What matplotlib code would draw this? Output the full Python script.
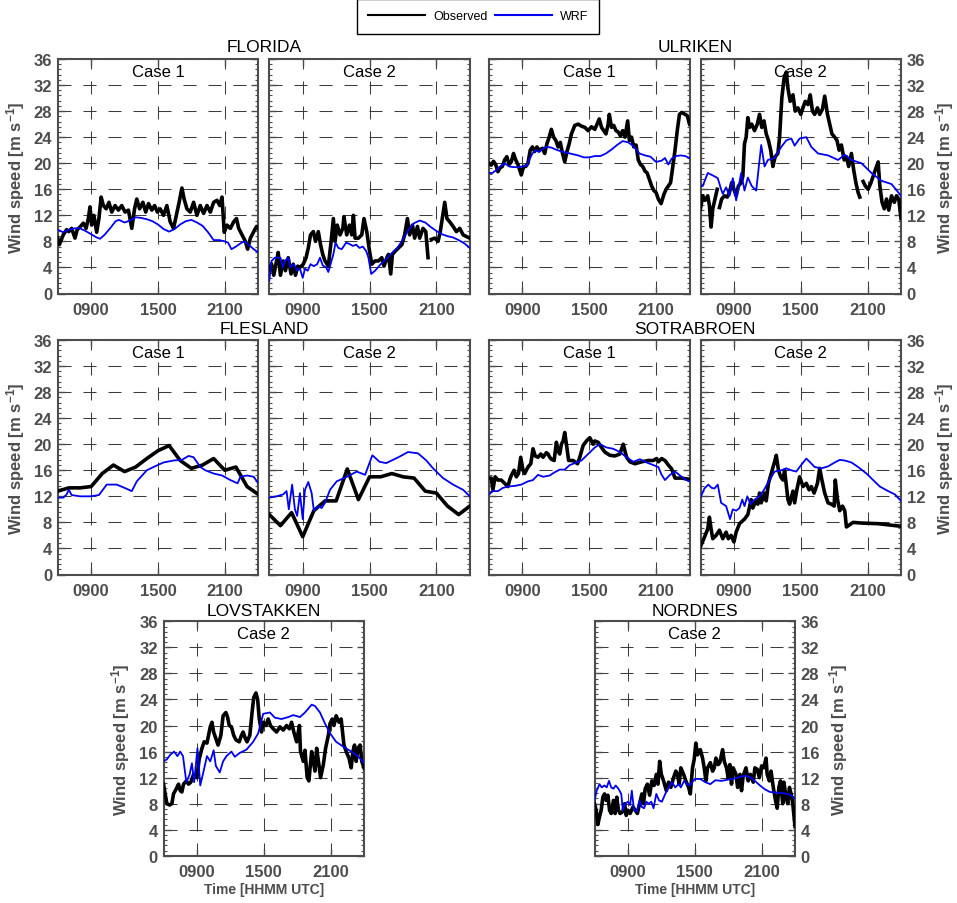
import matplotlib
matplotlib.use("Agg")
import matplotlib.pyplot as plt
import numpy as np
from matplotlib.lines import Line2D
from matplotlib.ticker import AutoMinorLocator

plt.rcParams["font.family"] = ["Liberation Sans", "DejaVu Sans"]

OBS_COLOR = "black"
WRF_COLOR = "#0000f0"
AXIS_GREY = "#4d4d4d"

Y_TICKS = list(range(0, 37, 4))
X_TICKS = [9, 15, 21]
X_TICK_LABELS = ["0900", "1500", "2100"]
NAN = np.nan

# (hour UTC, wind speed m/s)
FLORIDA_C1_OBS = [
    (6.0, 8.5), (6.15, 7.5), (6.5, 9.0), (6.8, 9.8), (7.0, 9.5), (7.25, 10.0),
    (7.55, 8.5), (7.75, 9.8), (8.0, 10.2), (8.3, 10.8), (8.55, 10.0), (8.75, 11.5),
    (8.9, 13.3), (9.05, 10.5), (9.25, 12.0), (9.5, 9.4), (9.7, 11.5), (9.9, 14.8),
    (10.1, 13.5), (10.35, 13.0), (10.6, 14.0), (10.85, 12.5), (11.15, 13.5),
    (11.45, 12.8), (11.75, 13.5), (12.05, 12.5), (12.35, 12.8), (12.65, 10.0),
    (12.9, 13.0), (13.1, 14.5), (13.35, 13.0), (13.65, 14.0), (13.9, 12.5),
    (14.15, 13.8), (14.45, 12.8), (14.7, 13.5), (14.95, 12.5), (15.2, 13.0),
    (15.5, 12.0), (15.8, 13.5), (16.1, 11.0), (16.4, 10.0), (16.65, 12.0),
    (16.9, 14.0), (17.15, 16.2), (17.35, 14.5), (17.6, 13.0), (17.9, 12.5),
    (18.2, 14.0), (18.5, 12.0), (18.8, 13.5), (19.1, 12.3), (19.4, 13.5),
    (19.7, 12.5), (20.0, 14.0), (20.3, 14.3), (20.55, 13.5), (20.75, 14.8),
    (20.95, 9.4), (21.2, 10.5), (21.5, 10.0), (21.8, 11.0), (22.05, 11.5),
    (22.25, 10.0), (22.55, 9.0), (22.85, 8.0), (23.05, 6.8), (23.3, 8.5),
    (23.6, 9.5), (23.85, 10.3), (24.0, 10.0),
]
FLORIDA_C1_WRF = [
    (6.0, 9.8), (6.5, 9.4), (7.0, 9.8), (7.5, 10.0), (8.0, 10.0), (8.5, 9.6),
    (9.0, 9.1), (9.5, 8.6), (9.8, 8.4), (10.2, 9.0), (10.7, 10.0), (11.2, 11.1),
    (11.5, 11.3), (12.0, 10.9), (12.5, 11.2), (13.0, 11.7), (13.5, 11.6),
    (14.0, 11.4), (14.5, 11.1), (15.0, 10.6), (15.5, 9.9), (16.0, 9.5),
    (16.5, 9.9), (17.0, 10.6), (17.5, 11.1), (18.0, 11.3), (18.5, 10.9),
    (19.0, 10.4), (19.5, 9.4), (20.0, 8.2), (20.5, 8.2), (21.0, 8.0),
    (21.3, 7.8), (21.6, 6.8), (22.0, 7.2), (22.5, 7.8), (22.8, 8.0),
    (23.2, 7.4), (23.6, 6.8), (24.0, 6.3),
]
FLORIDA_C2_OBS = [
    (6.0, 3.5), (6.2, 4.5), (6.4, 2.8), (6.65, 5.0), (6.8, 6.3), (7.0, 2.8),
    (7.25, 5.0), (7.45, 3.5), (7.7, 5.5), (7.95, 3.0), (8.15, 4.5), (8.35, 2.8),
    (8.55, 4.2), (8.75, 4.0), (9.05, 4.5), (9.3, 5.5), (9.5, 7.0), (9.7, 9.0),
    (9.95, 9.5), (10.15, 8.0), (10.4, 9.5), (10.6, 7.5), (10.8, 6.0),
    (11.0, 5.0), (11.3, 4.2), (11.55, 8.0), (11.75, 11.5), (11.9, 8.0),
    (12.1, 10.5), (12.35, 9.0), (12.6, 10.0), (12.7, 11.8), (12.95, 9.0),
    (13.2, 10.5), (13.4, 9.0), (13.55, 12.0), (13.7, 8.5), (14.0, 8.5),
    (14.3, 9.0), (14.5, 11.5), (14.75, 9.5), (15.0, 6.5), (15.2, 4.5),
    (15.5, 5.0), (15.8, 5.0), (16.1, 5.5), (16.3, 4.2), (16.55, 5.5),
    (16.7, 6.0), (16.9, 3.0), (17.05, 6.0), (17.3, 6.5), (17.6, 7.0),
    (17.9, 7.5), (18.15, 9.0), (18.4, 11.5), (18.6, 9.0), (18.85, 10.5),
    (19.05, 8.5), (19.3, 10.3), (19.5, 8.5), (19.8, 10.0), (20.05, 9.5),
    (20.25, 5.5), (20.4, NAN), (20.55, 8.3), (20.85, 8.5), (21.15, 8.0),
    (21.35, 9.5), (21.75, 14.0), (21.95, 11.5), (22.2, 11.0), (22.5, 10.3),
    (22.8, 9.5), (23.1, 10.0), (23.4, 9.0), (23.75, 8.7), (24.0, 8.5),
]
FLORIDA_C2_WRF = [
    (6.0, 2.0), (6.2, 5.0), (6.5, 5.5), (7.0, 5.5), (7.2, 4.0), (7.4, 5.0),
    (7.7, 5.5), (7.9, 4.0), (8.2, 4.5), (8.5, 3.5), (8.75, 3.8), (9.0, 2.4),
    (9.2, 3.8), (9.45, 3.5), (9.7, 4.5), (10.0, 4.2), (10.3, 4.5), (10.55, 5.5),
    (10.8, 4.3), (11.1, 4.0), (11.3, 3.3), (11.5, 4.5), (11.75, 6.0),
    (11.95, 7.8), (12.2, 7.0), (12.5, 6.8), (12.9, 7.8), (13.2, 7.6),
    (13.5, 7.3), (13.8, 7.5), (14.1, 7.0), (14.4, 7.2), (14.7, 6.5),
    (14.9, 5.5), (15.15, 3.0), (15.5, 3.5), (16.0, 4.5), (16.5, 5.3),
    (17.0, 6.2), (17.5, 7.0), (18.0, 8.3), (18.5, 9.8), (19.0, 10.8),
    (19.5, 11.2), (20.0, 10.9), (20.5, 10.2), (21.0, 9.6), (21.5, 9.1),
    (22.0, 8.8), (22.5, 8.6), (23.0, 8.2), (23.5, 7.7), (24.0, 7.0),
]
ULRIKEN_C1_OBS = [
    (6.0, 20.0), (6.2, 19.7), (6.4, 20.3), (6.6, 19.8), (6.8, 18.7), (7.0, 19.3),
    (7.2, 19.5), (7.4, 20.5), (7.6, 21.0), (7.8, 19.8), (8.0, 20.2), (8.2, 21.5),
    (8.4, 20.5), (8.6, 19.8), (8.9, 18.2), (9.1, 19.5), (9.3, 19.5), (9.5, 20.0),
    (9.7, 22.0), (9.9, 22.5), (10.1, 21.8), (10.3, 22.5), (10.5, 22.0),
    (10.8, 22.3), (11.0, 21.5), (11.2, 23.0), (11.4, 24.0), (11.6, 25.2),
    (11.8, 24.0), (12.0, 23.5), (12.2, 22.5), (12.4, 23.2), (12.6, 21.5),
    (12.8, 20.2), (13.0, 21.8), (13.2, 23.0), (13.4, 24.5), (13.7, 25.8),
    (14.0, 26.0), (14.3, 25.7), (14.6, 25.5), (14.9, 25.0), (15.2, 25.6),
    (15.5, 25.2), (15.7, 26.0), (15.9, 26.8), (16.1, 25.5), (16.3, 25.0),
    (16.5, 24.5), (16.7, 26.0), (16.8, 27.5), (17.0, 25.5), (17.2, 25.8),
    (17.4, 25.0), (17.6, 24.8), (17.8, 24.2), (18.0, 25.0), (18.2, 24.0),
    (18.45, 26.5), (18.6, 23.5), (18.8, 24.0), (19.0, 22.5), (19.2, 22.8),
    (19.4, 20.5), (19.6, 19.8), (19.8, 19.5), (20.0, 18.8), (20.2, 18.5),
    (20.4, 17.5), (20.6, 16.5), (20.8, 15.8), (21.0, 15.5), (21.2, 14.5),
    (21.45, 13.8), (21.7, 15.2), (21.9, 16.0), (22.1, 16.5), (22.3, 17.0),
    (22.5, 19.5), (22.7, 22.0), (22.9, 25.0), (23.1, 27.5), (23.3, 27.8),
    (23.6, 27.5), (23.8, 27.3), (24.0, 26.0),
]
ULRIKEN_C1_WRF = [
    (6.0, 18.5), (6.3, 18.5), (6.7, 19.0), (7.0, 19.5), (7.4, 20.0), (7.8, 19.5),
    (8.2, 19.4), (8.6, 19.4), (9.0, 19.5), (9.4, 19.6), (9.6, 20.5), (9.9, 21.5),
    (10.2, 22.0), (10.5, 21.7), (10.8, 22.2), (11.2, 22.5), (11.6, 22.4),
    (12.0, 22.1), (12.5, 21.8), (13.0, 21.6), (13.5, 21.4), (14.0, 21.2),
    (14.5, 20.9), (15.0, 20.9), (15.5, 21.1), (16.0, 21.1), (16.5, 21.5),
    (17.0, 22.1), (17.5, 22.8), (18.0, 23.4), (18.5, 23.2), (19.0, 22.6),
    (19.5, 21.5), (20.0, 21.2), (20.5, 21.0), (21.0, 20.2), (21.5, 20.4),
    (21.8, 20.8), (22.1, 19.8), (22.4, 20.7), (22.8, 21.1), (23.2, 21.2),
    (23.6, 21.1), (24.0, 20.8),
]
ULRIKEN_C2_OBS = [
    (6.0, 13.0), (6.2, 15.0), (6.4, 14.3), (6.65, 15.0), (6.8, 13.5), (6.95, 10.2),
    (7.1, 13.0), (7.3, 14.5), (7.5, 16.0), (7.6, NAN), (7.7, 13.2), (7.9, 14.5),
    (8.15, 15.0), (8.4, 14.8), (8.6, 15.5), (8.8, 17.0), (9.0, 16.0), (9.2, 15.0),
    (9.4, 16.5), (9.65, 17.0), (9.8, 18.0), (9.95, 23.0), (10.1, 24.0),
    (10.25, 27.0), (10.4, 25.5), (10.6, 26.0), (10.85, 25.0), (11.1, 26.0),
    (11.3, 27.5), (11.5, 25.5), (11.7, 26.5), (11.9, 24.5), (12.1, 23.5),
    (12.3, 22.0), (12.5, 19.5), (12.7, 21.0), (12.95, 21.5), (13.1, 24.0),
    (13.3, 30.0), (13.5, 33.0), (13.7, 34.0), (13.85, 31.5), (14.05, 29.5),
    (14.3, 30.5), (14.5, 28.0), (14.75, 28.5), (15.0, 27.5), (15.2, 28.5),
    (15.4, 29.5), (15.65, 29.0), (15.85, 30.5), (16.05, 28.0), (16.25, 27.5),
    (16.5, 28.5), (16.7, 27.5), (16.95, 28.3), (17.15, 30.3), (17.4, 27.5),
    (17.6, 26.0), (17.8, 24.5), (18.05, 24.0), (18.25, 23.5), (18.45, 22.0),
    (18.65, 22.8), (18.9, 20.5), (19.1, 21.0), (19.3, 19.5), (19.55, 21.5),
    (19.75, 19.0), (19.95, 17.0), (20.15, 15.5), (20.3, 14.8), (20.45, NAN),
    (20.6, 17.2), (20.8, 16.5), (21.05, 16.0), (21.3, 17.0), (21.5, 18.0),
    (21.7, 19.0), (21.95, 20.2), (22.1, 16.5), (22.3, 14.0), (22.5, 13.0),
    (22.7, 14.5), (22.9, 12.8), (23.15, 15.0), (23.4, 14.0), (23.6, 15.0),
    (23.8, 14.5), (24.0, 11.5),
]
ULRIKEN_C2_WRF = [
    (6.0, 16.5), (6.2, 16.5), (6.65, 18.5), (7.25, 18.0), (7.55, 17.7),
    (7.85, 16.0), (8.0, 15.3), (8.3, 16.3), (8.6, 15.0), (8.9, 17.7), (9.2, 14.3),
    (9.65, 18.5), (9.95, 15.8), (10.25, 17.8), (10.6, 16.5), (11.0, 15.8),
    (11.45, 22.8), (11.75, 19.5), (12.05, 20.5), (12.65, 20.8), (13.25, 22.5),
    (13.7, 23.5), (14.15, 23.8), (14.45, 22.7), (14.9, 23.8), (15.5, 24.0),
    (15.95, 22.5), (16.55, 21.5), (17.45, 21.2), (18.35, 20.5), (18.95, 21.3),
    (19.55, 20.5), (20.45, 20.0), (21.35, 18.5), (22.25, 17.3), (23.15, 16.8),
    (24.0, 15.0),
]
FLESLAND_HOURS = list(range(6, 25))
FLESLAND_C1_OBS = [12.8, 13.3, 13.3, 13.5, 15.5, 16.8, 15.8, 16.5, 17.8, 19.0,
                   19.8, 17.5, 16.3, 16.8, 17.8, 16.0, 16.5, 13.5, 12.3]
FLESLAND_C1_WRF = [
    (6.0, 11.8), (6.5, 11.8), (6.8, 12.3), (7.0, 13.0), (7.25, 12.2), (8.0, 12.0),
    (8.9, 12.0), (9.7, 12.2), (10.4, 13.8), (11.3, 13.8), (12.0, 13.3),
    (12.65, 12.8), (13.1, 14.3), (14.0, 16.0), (14.6, 16.5), (15.5, 17.2),
    (16.4, 17.5), (17.15, 17.6), (17.75, 18.2), (18.2, 18.0), (18.8, 16.5),
    (19.25, 16.0), (20.0, 15.5), (20.75, 15.2), (21.5, 14.5), (22.15, 14.0),
    (22.4, 15.0), (23.0, 15.2), (23.6, 15.0), (24.0, 14.0),
]
FLESLAND_C2_OBS = [9.2, 7.5, 9.5, 5.8, 9.8, 11.3, 11.3, 16.2, 11.5, 15.0,
                   15.0, 15.5, 15.0, 14.8, 12.8, 12.5, 10.5, 9.2, 10.5]
FLESLAND_C2_WRF = [
    (6.0, 11.8), (6.65, 12.0), (7.25, 12.3), (7.55, 12.8), (7.75, 10.0),
    (8.05, 13.8), (8.3, 10.0), (8.5, 9.0), (8.75, 12.5), (9.0, 8.5), (9.2, 13.0),
    (9.5, 14.2), (9.8, 12.5), (10.0, 9.8), (10.4, 10.5), (10.7, 10.2),
    (11.0, 11.0), (11.45, 13.0), (12.05, 14.3), (12.95, 15.0), (13.85, 15.8),
    (14.6, 15.3), (15.25, 18.3), (15.9, 17.3), (16.5, 17.1), (17.1, 17.6),
    (17.7, 18.1), (18.45, 18.8), (19.35, 18.6), (20.1, 17.5), (20.7, 16.3),
    (21.6, 14.8), (22.5, 13.8), (23.4, 13.0), (24.0, 12.0),
]
SOTRABROEN_C1_OBS = [
    (6.0, 14.8), (6.2, 14.8), (6.35, 13.0), (6.55, 15.0), (6.8, 14.5), (7.1, 14.5),
    (7.4, 14.0), (7.7, 13.5), (7.85, 14.5), (8.0, 15.2), (8.25, 16.0), (8.45, 15.0),
    (8.65, 15.5), (8.85, 18.0), (9.05, 16.0), (9.2, 15.5), (9.5, 16.5),
    (9.75, 17.0), (9.95, 19.3), (10.15, 18.2), (10.4, 18.0), (10.65, 18.5),
    (10.85, 18.0), (11.15, 18.7), (11.3, 18.5), (11.45, 18.0), (11.6, 17.7),
    (11.85, 17.5), (12.05, 20.3), (12.2, 19.0), (12.35, 18.5), (12.5, 20.0),
    (12.65, 20.5), (12.8, 21.8), (12.95, 20.0), (13.15, 17.5), (13.55, 17.5),
    (13.95, 17.0), (14.15, 18.0), (14.45, 19.8), (14.75, 20.5), (15.05, 21.0),
    (15.35, 20.0), (15.5, 20.5), (15.8, 20.3), (16.1, 19.5), (16.4, 18.8),
    (16.85, 18.3), (17.3, 18.2), (17.75, 18.5), (18.05, 20.0), (18.35, 18.0),
    (18.65, 17.3), (19.1, 17.0), (19.7, 17.3), (20.3, 17.5), (20.75, 17.5),
    (21.05, 17.8), (21.2, 17.3), (21.5, 17.8), (21.8, 17.5), (22.1, 16.8),
    (22.4, 16.2), (22.7, 14.8), (23.3, 14.8), (24.0, 14.6),
]
SOTRABROEN_C1_WRF = [
    (6.0, 12.3), (6.35, 12.8), (6.8, 12.8), (7.25, 13.3), (7.7, 13.5), (8.3, 13.6),
    (8.9, 13.8), (9.5, 14.3), (9.95, 14.5), (10.4, 15.3), (10.85, 15.0),
    (11.45, 15.2), (11.9, 15.7), (12.35, 16.1), (12.8, 16.1), (13.25, 16.8),
    (13.7, 17.1), (14.3, 17.5), (14.9, 18.5), (15.5, 19.5), (15.95, 20.0),
    (16.55, 19.5), (17.15, 19.3), (17.75, 18.8), (18.35, 18.0), (18.95, 17.3),
    (19.55, 17.7), (20.15, 17.2), (20.75, 16.8), (21.2, 16.5), (21.5, 15.3),
    (21.8, 14.5), (22.25, 15.3), (22.7, 15.8), (23.15, 15.2), (23.6, 14.6),
    (24.0, 14.3),
]
SOTRABROEN_C2_OBS = [
    (6.0, 4.3), (6.3, 5.5), (6.65, 7.0), (6.8, 8.8), (6.95, 7.0), (7.1, 5.5),
    (7.4, 6.0), (7.7, 6.8), (8.0, 5.5), (8.3, 6.5), (8.5, 5.5), (8.75, 6.0),
    (9.0, 5.0), (9.2, 6.5), (9.5, 7.8), (9.95, 8.5), (10.25, 9.2), (10.55, 11.5),
    (10.7, 10.2), (10.95, 11.3), (11.15, 10.8), (11.3, 12.5), (11.45, 11.0),
    (11.75, 12.5), (11.9, 11.3), (12.1, 14.0), (12.35, 15.5), (12.65, 17.3),
    (12.8, 18.3), (13.0, 16.0), (13.2, 15.0), (13.4, 14.5), (13.55, 16.0),
    (13.85, 11.5), (14.0, 10.8), (14.3, 12.8), (14.45, 11.0), (14.65, 13.0),
    (14.9, 15.0), (15.2, 13.5), (15.5, 14.0), (15.75, 13.0), (15.95, 13.5),
    (16.2, 12.5), (16.5, 14.0), (16.7, 16.3), (16.9, 14.5), (17.15, 12.5),
    (17.45, 11.0), (17.75, 10.8), (18.0, 10.5), (18.1, 14.5), (18.3, 11.5),
    (18.5, 9.8), (18.75, 10.5), (18.95, 9.8), (19.1, 7.3), (19.7, 8.0),
    (20.45, 7.9), (21.95, 7.8), (24.0, 7.4),
]
SOTRABROEN_C2_WRF = [
    (6.0, 11.8), (6.35, 13.2), (6.7, 13.8), (7.0, 13.3), (7.25, 13.2), (7.55, 13.8),
    (7.85, 11.0), (8.3, 10.5), (8.65, 8.5), (8.9, 10.0), (9.2, 9.8), (9.5, 10.2),
    (9.75, 11.5), (9.95, 10.5), (10.2, 12.0), (10.5, 10.8), (10.85, 11.5),
    (11.3, 12.0), (11.7, 13.0), (12.2, 14.5), (12.65, 15.8), (13.25, 16.0),
    (13.7, 16.3), (14.15, 16.0), (14.6, 15.8), (14.9, 16.5), (15.5, 17.8),
    (15.8, 17.3), (16.25, 16.5), (16.85, 16.3), (17.45, 16.6), (18.05, 17.2),
    (18.5, 17.6), (18.95, 17.5), (19.55, 17.2), (20.15, 16.5), (20.9, 15.5),
    (21.5, 14.5), (22.1, 13.5), (22.85, 12.8), (23.45, 12.3), (24.0, 11.3),
]
LOVSTAKKEN_C2_OBS = [
    (6.0, 11.0), (6.15, 9.5), (6.3, 8.0), (6.55, 7.8), (6.75, 8.0), (6.9, 9.5),
    (7.15, 10.3), (7.35, 11.0), (7.5, 10.0), (7.65, 9.8), (7.8, 11.0), (8.05, 11.5),
    (8.25, 11.0), (8.45, 11.3), (8.7, 12.5), (9.0, 12.0), (9.2, 14.8), (9.45, 16.5),
    (9.65, 17.5), (9.9, 17.3), (10.2, 19.8), (10.35, 20.5), (10.5, 19.0),
    (10.7, 18.0), (10.9, 17.0), (11.15, 18.5), (11.35, 21.5), (11.6, 22.0),
    (11.75, 21.3), (11.9, 20.0), (12.1, 19.8), (12.3, 18.5), (12.5, 17.8),
    (12.8, 17.5), (13.0, 18.5), (13.15, 19.0), (13.35, 18.0), (13.5, 17.5),
    (13.75, 18.5), (13.95, 22.0), (14.1, 24.3), (14.3, 25.0), (14.45, 24.0),
    (14.6, 21.0), (14.8, 19.0), (14.95, 20.5), (15.2, 20.0), (15.4, 21.0),
    (15.6, 20.0), (15.85, 19.5), (16.15, 19.0), (16.45, 19.8), (16.75, 19.3),
    (17.05, 20.0), (17.3, 19.5), (17.5, 20.5), (17.7, 19.0), (17.95, 17.5),
    (18.2, 20.0), (18.3, 16.0), (18.55, 14.5), (18.7, 16.2), (18.9, 12.0),
    (19.05, 11.5), (19.3, 16.0), (19.45, 14.5), (19.6, 13.0), (19.75, 16.5),
    (19.95, 14.0), (20.1, 12.0), (20.35, 14.0), (20.55, 16.5), (20.8, 18.5),
    (20.95, 20.3), (21.15, 21.0), (21.3, 20.0), (21.5, 21.5), (21.75, 20.5),
    (21.95, 21.0), (22.2, 17.0), (22.4, 16.0), (22.65, 15.0), (22.85, 13.5),
    (23.0, 16.0), (23.15, 17.0), (23.3, 14.5), (23.45, 16.5), (23.65, 17.0),
    (23.8, 14.5), (24.0, 13.5),
]
LOVSTAKKEN_C2_WRF = [
    (6.0, 14.5), (6.3, 14.8), (6.6, 15.5), (6.95, 16.0), (7.25, 15.3), (7.5, 16.0),
    (7.75, 15.3), (8.05, 11.3), (8.35, 12.5), (8.55, 14.2), (8.75, 11.3),
    (9.05, 16.5), (9.3, 10.8), (9.6, 13.0), (9.9, 15.3), (10.2, 14.5),
    (10.5, 16.2), (10.7, 13.8), (11.05, 12.8), (11.35, 14.5), (11.65, 15.3),
    (12.1, 16.0), (12.4, 15.2), (12.85, 15.8), (13.45, 16.3), (14.05, 17.5),
    (14.5, 18.8), (14.95, 21.8), (15.55, 22.0), (16.0, 21.2), (16.6, 21.0),
    (17.2, 21.3), (17.65, 21.6), (18.25, 21.3), (18.7, 22.0), (19.3, 23.2),
    (19.6, 23.0), (20.05, 22.0), (20.5, 20.3), (20.95, 18.8), (21.5, 17.5),
    (22.1, 16.8), (22.85, 16.0), (23.45, 15.3), (24.0, 14.3),
]
NORDNES_C2_OBS = [
    (6.0, 8.0), (6.15, 7.0), (6.3, 4.8), (6.45, 6.0), (6.6, 7.0), (6.75, 9.0),
    (6.9, 9.5), (7.05, 8.5), (7.2, 9.3), (7.35, 7.0), (7.5, 6.5), (7.7, 8.5),
    (7.85, 6.5), (8.0, 9.0), (8.15, 7.0), (8.3, 6.5), (8.55, 6.8), (8.7, 8.0),
    (8.85, 6.2), (9.0, 7.0), (9.2, 6.5), (9.45, 7.5), (9.65, 7.0), (9.85, 6.5),
    (10.05, 8.0), (10.25, 9.5), (10.4, 8.0), (10.55, 10.3), (10.75, 11.0),
    (10.95, 9.3), (11.15, 11.5), (11.35, 10.8), (11.55, 12.5), (11.7, 11.0),
    (11.85, 14.5), (12.0, 12.5), (12.2, 11.5), (12.45, 10.0), (12.65, 11.3),
    (12.85, 10.5), (13.1, 12.0), (13.3, 13.0), (13.45, 12.5), (13.6, 11.0),
    (13.75, 13.5), (14.0, 12.5), (14.2, 11.5), (14.45, 10.5), (14.6, 9.5),
    (14.8, 13.5), (14.95, 14.8), (15.1, 17.3), (15.25, 15.5), (15.5, 16.3),
    (15.7, 15.0), (15.85, 13.5), (16.0, 11.5), (16.15, 13.5), (16.4, 14.3),
    (16.6, 13.0), (16.75, 13.5), (16.9, 15.0), (17.1, 14.0), (17.25, 14.3),
    (17.5, 16.3), (17.65, 14.5), (17.85, 13.5), (18.0, 12.0), (18.15, 14.0),
    (18.3, 11.0), (18.45, 13.5), (18.7, 12.5), (18.85, 10.5), (19.05, 12.5),
    (19.2, 10.0), (19.35, 12.3), (19.6, 13.5), (19.8, 11.5), (20.0, 12.5),
    (20.25, 11.3), (20.4, 13.5), (20.6, 13.3), (20.8, 12.0), (21.0, 13.8),
    (21.2, 13.5), (21.4, 15.0), (21.5, 12.5), (21.7, 11.5), (21.85, 13.0),
    (22.05, 10.5), (22.25, 8.5), (22.4, 7.3), (22.55, 10.5), (22.7, 11.5),
    (22.9, 8.0), (23.0, 11.3), (23.2, 9.0), (23.35, 8.0), (23.5, 10.5),
    (23.65, 9.5), (23.8, 8.0), (24.0, 4.5),
]
NORDNES_C2_WRF = [
    (6.0, 8.5), (6.2, 10.0), (6.45, 11.0), (6.65, 10.5), (6.9, 10.8), (7.1, 10.5),
    (7.3, 11.5), (7.5, 10.5), (7.7, 10.3), (7.9, 10.8), (8.15, 10.3), (8.4, 9.5),
    (8.55, 7.0), (8.75, 8.0), (9.0, 8.3), (9.2, 7.8), (9.35, 10.0), (9.55, 7.0),
    (9.8, 6.8), (10.05, 8.5), (10.25, 7.5), (10.45, 7.3), (10.65, 8.3),
    (10.85, 8.0), (11.1, 8.3), (11.3, 7.3), (11.55, 9.5), (11.8, 8.5),
    (12.05, 8.3), (12.35, 9.5), (12.65, 10.5), (12.95, 11.3), (13.25, 10.5),
    (13.55, 11.0), (13.75, 10.5), (14.05, 11.5), (14.45, 10.8), (14.65, 11.0),
    (15.0, 11.8), (15.5, 11.8), (15.95, 11.3), (16.4, 11.0), (16.85, 11.6),
    (17.4, 11.5), (18.0, 11.7), (18.45, 11.8), (19.05, 12.1), (19.5, 12.3),
    (19.95, 12.1), (20.4, 11.5), (20.85, 10.8), (21.3, 10.2), (21.75, 9.8),
    (22.35, 9.7), (22.95, 9.6), (23.55, 9.4), (24.0, 8.8),
]


def _as_series(data, hours=None):
    if hours is not None:
        return np.asarray(hours, dtype=float), np.asarray(data, dtype=float)
    arr = np.asarray(data, dtype=float)
    return arr[:, 0], arr[:, 1]


# panel layout in pixels: (left, top), axes are 200.5 x 234.5 px
W_PX, H_PX = 957.0, 904.0
AX_W, AX_H = 200.5, 234.5

PANELS = [
    dict(pos=(57.7, 60.0), case="Case 1", side="left",
         obs=_as_series(FLORIDA_C1_OBS), wrf=_as_series(FLORIDA_C1_WRF)),
    dict(pos=(269.3, 60.0), case="Case 2", side="none",
         obs=_as_series(FLORIDA_C2_OBS), wrf=_as_series(FLORIDA_C2_WRF)),
    dict(pos=(489.0, 60.0), case="Case 1", side="none",
         obs=_as_series(ULRIKEN_C1_OBS), wrf=_as_series(ULRIKEN_C1_WRF)),
    dict(pos=(700.5, 60.0), case="Case 2", side="right",
         obs=_as_series(ULRIKEN_C2_OBS), wrf=_as_series(ULRIKEN_C2_WRF)),
    dict(pos=(57.7, 341.0), case="Case 1", side="left",
         obs=_as_series(FLESLAND_C1_OBS, FLESLAND_HOURS),
         wrf=_as_series(FLESLAND_C1_WRF)),
    dict(pos=(269.3, 341.0), case="Case 2", side="none",
         obs=_as_series(FLESLAND_C2_OBS, FLESLAND_HOURS),
         wrf=_as_series(FLESLAND_C2_WRF)),
    dict(pos=(489.0, 341.0), case="Case 1", side="none",
         obs=_as_series(SOTRABROEN_C1_OBS), wrf=_as_series(SOTRABROEN_C1_WRF)),
    dict(pos=(700.5, 341.0), case="Case 2", side="right",
         obs=_as_series(SOTRABROEN_C2_OBS), wrf=_as_series(SOTRABROEN_C2_WRF)),
    dict(pos=(163.5, 622.3), case="Case 2", side="left", xlabel=True,
         obs=_as_series(LOVSTAKKEN_C2_OBS), wrf=_as_series(LOVSTAKKEN_C2_WRF)),
    dict(pos=(594.5, 622.3), case="Case 2", side="right", xlabel=True,
         obs=_as_series(NORDNES_C2_OBS), wrf=_as_series(NORDNES_C2_WRF)),
]

# station name, centre x px, y px
TITLES = [
    ("FLORIDA", 263.9, 48.0),
    ("ULRIKEN", 694.8, 48.0),
    ("FLESLAND", 263.9, 330.0),
    ("SOTRABROEN", 694.8, 330.0),
    ("LOVSTAKKEN", 263.9, 612.0),
    ("NORDNES", 694.8, 612.0),
]

YLABEL = r"Wind speed [m s$\mathregular{^{-1}}$]"
GRID_STYLE = dict(linestyle=(0, (12.5, 11.5)), color="#3c3c3c", linewidth=0.75)


def draw_panel(fig, spec):
    left, top = spec["pos"]
    ax = fig.add_axes([left / W_PX, 1 - (top + AX_H) / H_PX, AX_W / W_PX, AX_H / H_PX])
    t_obs, v_obs = spec["obs"]
    t_wrf, v_wrf = spec["wrf"]
    ax.plot(t_obs, v_obs, color=OBS_COLOR, linewidth=2.6, solid_joinstyle="round", zorder=3)
    ax.plot(t_wrf, v_wrf, color=WRF_COLOR, linewidth=1.3, zorder=4)

    ax.set_xlim(6, 24)
    ax.set_ylim(0, 36)
    ax.set_xticks(X_TICKS)
    ax.set_xticklabels(X_TICK_LABELS, fontweight="bold", fontsize=12)
    ax.set_yticks(Y_TICKS)
    ax.set_yticklabels([str(v) for v in Y_TICKS], fontweight="bold", fontsize=12)
    ax.yaxis.set_minor_locator(AutoMinorLocator(5))
    ax.grid(True, which="major", **GRID_STYLE)

    ax.tick_params(which="both", direction="in", top=True, right=True,
                   colors=AXIS_GREY, labelcolor=AXIS_GREY)
    ax.tick_params(which="major", length=5, width=1.0)
    ax.tick_params(which="minor", length=2, width=0.8)
    ax.tick_params(axis="x", pad=6)
    ax.tick_params(axis="y", pad=4)
    for spine in ax.spines.values():
        spine.set_color(AXIS_GREY)
        spine.set_linewidth(1.5)

    side = spec["side"]
    if side == "left":
        ax.tick_params(axis="y", labelleft=True, labelright=False)
        ax.set_ylabel(YLABEL, fontsize=12, fontweight="bold", color=AXIS_GREY, labelpad=5)
    elif side == "right":
        ax.tick_params(axis="y", labelleft=False, labelright=True)
        ax.yaxis.set_label_position("right")
        ax.set_ylabel(YLABEL, fontsize=12, fontweight="bold", color=AXIS_GREY,
                      labelpad=6, rotation=90)
    else:
        ax.tick_params(axis="y", labelleft=False, labelright=False)

    if spec.get("xlabel"):
        ax.set_xlabel("Time [HHMM UTC]", fontsize=10, fontweight="bold",
                      color=AXIS_GREY, labelpad=2)

    ax.text(0.5, 0.948, spec["case"], transform=ax.transAxes, ha="center",
            va="center", fontsize=12, color="black")
    return ax


fig = plt.figure(figsize=(W_PX / 100, H_PX / 100), dpi=100)
for spec in PANELS:
    draw_panel(fig, spec)

for name, cx, cy in TITLES:
    fig.text(cx / W_PX, 1 - cy / H_PX, name, ha="center", va="center", fontsize=12.5)

handles = [
    Line2D([], [], color=OBS_COLOR, linewidth=1.5),
    Line2D([], [], color=WRF_COLOR, linewidth=1.5),
]
fig.legend(handles, ["Observed", "WRF"], loc="center", ncol=2,
           bbox_to_anchor=(478 / W_PX, 1 - 17.5 / H_PX), fontsize=9,
           frameon=True, fancybox=False, edgecolor="black", framealpha=1,
           handlelength=4.6, handletextpad=0.6, columnspacing=0.6,
           borderpad=0.9)

fig.savefig("out.png", dpi=100)
